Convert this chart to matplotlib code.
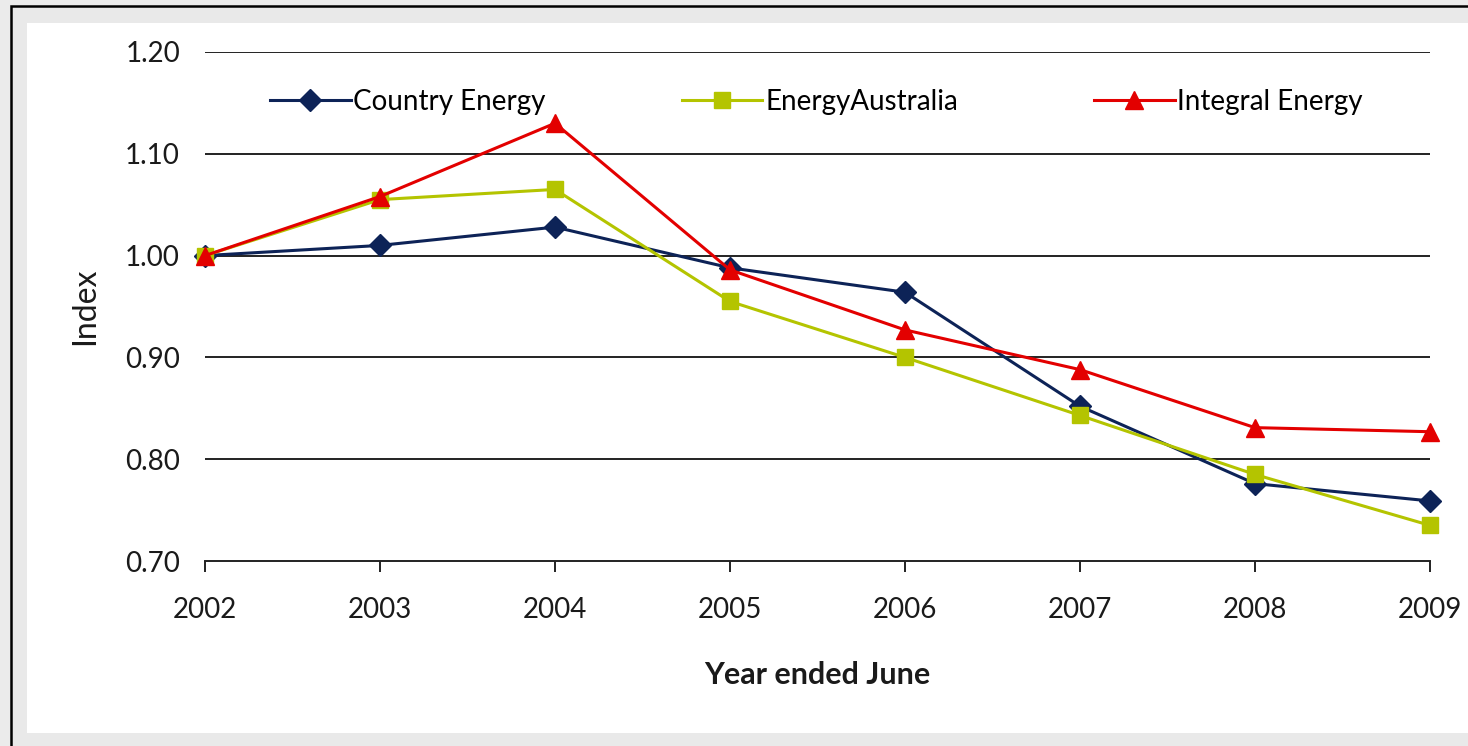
import matplotlib.pyplot as plt
from matplotlib.patches import Rectangle

# Data
years = [2002, 2003, 2004, 2005, 2006, 2007, 2008, 2009]
country_energy = [1.000, 1.010, 1.028, 0.988, 0.964, 0.852, 0.776, 0.759]
energy_australia = [1.000, 1.055, 1.065, 0.955, 0.900, 0.843, 0.785, 0.735]
integral_energy = [1.000, 1.058, 1.130, 0.986, 0.927, 0.888, 0.831, 0.827]
y_ticks = [0.70, 0.80, 0.90, 1.00, 1.10, 1.20]

plt.rcParams['font.family'] = ['Lato', 'DejaVu Sans']

W, H = 1468, 746
fig = plt.figure(figsize=(W / 100, H / 100), dpi=100, facecolor='#ebebeb')

# outer frame + white panel (behind the axes)
fig.add_artist(Rectangle((11 / W, -0.1), 1, 1.1 - 6 / H, transform=fig.transFigure,
                         facecolor='#e9e9e9', edgecolor='black', linewidth=1.8,
                         zorder=-10))
fig.add_artist(Rectangle((27 / W, 13 / H), 1, 1 - 36 / H, transform=fig.transFigure,
                         facecolor='white', edgecolor='none', zorder=-9))

ax = fig.add_axes([205 / W, 1 - 561 / H, (1430 - 205) / W, (561 - 52) / H])
ax.set_facecolor('none')

ax.plot(years, country_energy, color='#0d2357', linewidth=2.2, marker='D',
        markersize=11, clip_on=False, zorder=3, label='Country Energy')
ax.plot(years, energy_australia, color='#b4c400', linewidth=2.2, marker='s',
        markersize=12, clip_on=False, zorder=3, label='EnergyAustralia')
ax.plot(years, integral_energy, color='#e30000', linewidth=2.2, marker='^',
        markersize=13, clip_on=False, zorder=4, label='Integral Energy')

ax.set_xlim(2002, 2009)
ax.set_ylim(0.70, 1.20)
ax.set_xticks(years)
ax.set_xticklabels([str(y) for y in years])
ax.set_yticks(y_ticks)
ax.set_yticklabels([f'{v:.2f}' for v in y_ticks])

for v in y_ticks[1:]:
    ax.axhline(v, color='#222222', linewidth=1.4, zorder=1)

for s in ['top', 'right', 'left']:
    ax.spines[s].set_visible(False)
ax.spines['bottom'].set_color('#222222')
ax.spines['bottom'].set_linewidth(1.4)

ax.tick_params(axis='y', length=0, pad=18, labelsize=20, colors='#1a1a1a')
ax.tick_params(axis='x', direction='out', length=8, width=1.4, color='#222222',
               pad=18, labelsize=20, labelcolor='#1a1a1a')

ax.set_ylabel('Index', fontsize=23, labelpad=18, color='#1a1a1a')
ax.set_xlabel('Year ended June', fontsize=22, fontweight='bold', labelpad=27,
              color='#1a1a1a')

ax.legend(loc='center left', bbox_to_anchor=(0.044, 0.902), ncol=3, frameon=False,
          fontsize=20, handlelength=2.9, handletextpad=0.1, columnspacing=4.9,
          borderaxespad=0)

fig.savefig('out.png', dpi=100, facecolor=fig.get_facecolor())
